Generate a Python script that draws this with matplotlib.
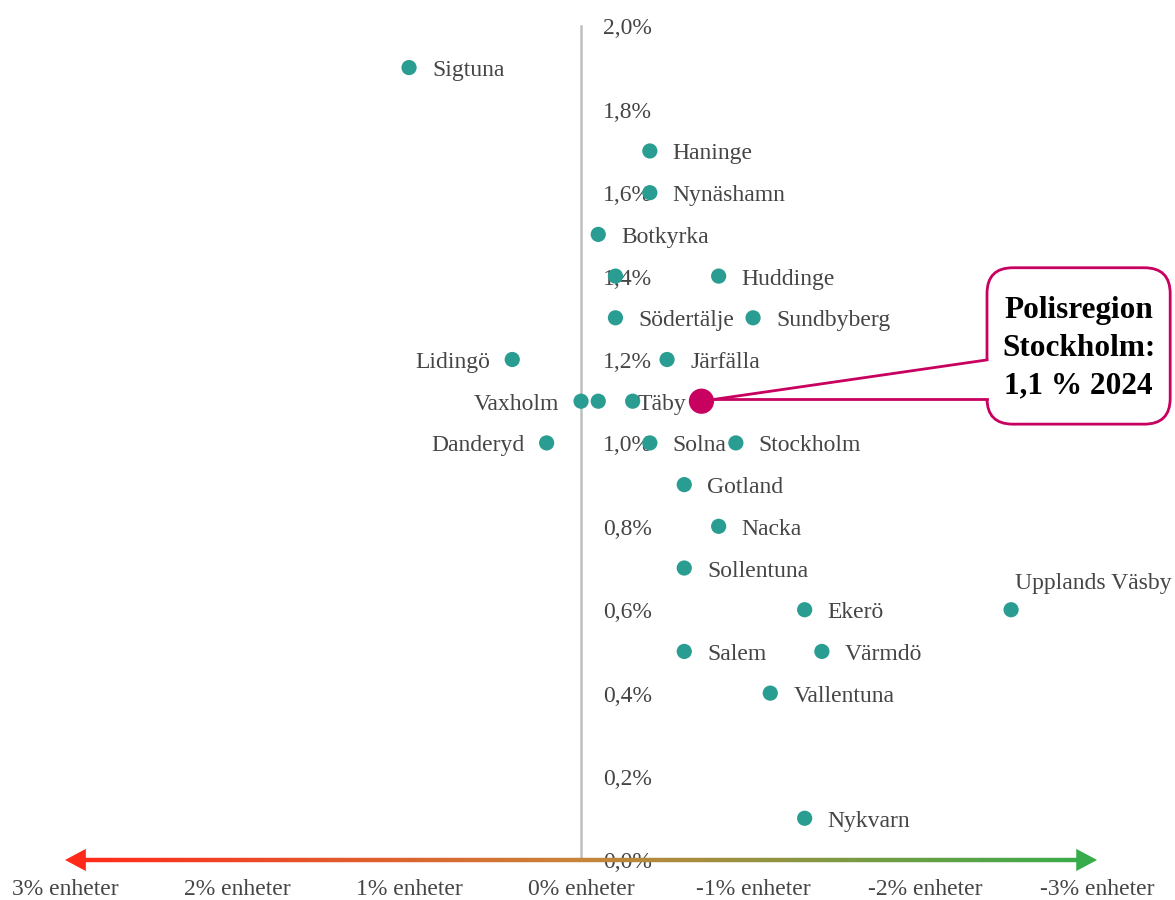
#!/usr/bin/env python

"""Scatter of municipalities in Polisregion Stockholm: level 2024 vs change."""

import matplotlib
matplotlib.use('Agg')
import matplotlib.pyplot as plt
import matplotlib.patches as mpatches
from matplotlib.collections import LineCollection
from matplotlib.colors import LinearSegmentedColormap
import numpy as np

plt.rcParams['font.family'] = ['Liberation Serif', 'DejaVu Serif']

# data (percent / percentage units)
names = ['Sigtuna', 'Haninge', 'Nynäshamn', 'Botkyrka', '', 'Huddinge',
         'Södertälje', 'Sundbyberg', 'Lidingö', 'Järfälla', 'Vaxholm', '',
         'Täby', 'Danderyd', 'Solna', 'Stockholm', 'Gotland', 'Nacka',
         'Sollentuna', 'Ekerö', 'Upplands Väsby', 'Salem', 'Värmdö',
         'Vallentuna', 'Nykvarn']
change = [1.0, -0.4, -0.4, -0.1, -0.2, -0.8,
          -0.2, -1.0, 0.4, -0.5, 0.0, -0.1,
          -0.3, 0.2, -0.4, -0.9, -0.6, -0.8,
          -0.6, -1.3, -2.5, -0.6, -1.4,
          -1.1, -1.3]
level = [1.9, 1.7, 1.6, 1.5, 1.4, 1.4,
         1.3, 1.3, 1.2, 1.2, 1.1, 1.1,
         1.1, 1.0, 1.0, 1.0, 0.9, 0.8,
         0.7, 0.6, 0.6, 0.5, 0.5,
         0.4, 0.1]
left_labels = ['Lidingö', 'Vaxholm', 'Danderyd']
above_labels = ['Upplands Väsby']
tight_labels = ['Täby']

region_name = 'Polisregion\nStockholm:\n1,1 % 2024'
region_change = -0.7
region_level = 1.1

y_ticks = [0.0, 0.2, 0.4, 0.6, 0.8, 1.0, 1.2, 1.4, 1.6, 1.8, 2.0]
x_ticks = [3, 2, 1, 0, -1, -2, -3]
x_tick_labels = ['3% enheter', '2% enheter', '1% enheter', '0% enheter',
                 '-1% enheter', '-2% enheter', '-3% enheter']

TEAL = '#2A9D92'
MAGENTA = '#C8005F'
TEXT = '#454545'
DY = -3     # text sits a little low in the original

fig = plt.figure(figsize=(11.75, 9), dpi=100)
ax = fig.add_axes([0, 0, 1, 1])
ax.set_xlim(3.378, -3.453)
ax.set_ylim(-0.096, 2.062)
ax.axis('off')

# vertical axis
ax.plot([0, 0], [0, 2.0], color='#BFBFBF', lw=1.8, zorder=1)
for v in y_ticks:
    ax.annotate('{:.1f}%'.format(v).replace('.', ','), xy=(0, v),
                xytext=(22, DY), textcoords='offset pixels',
                ha='left', va='center', fontsize=17, color=TEXT, zorder=2)

# gradient horizontal arrow
cmap = LinearSegmentedColormap.from_list(
    'redgreen', ['#FF2A1A', '#C8843A', '#38AC4A'])
xs = np.linspace(2.93, -2.93, 300)
segs = [[(xs[i], 0), (xs[i + 1], 0)] for i in range(len(xs) - 1)]
lc = LineCollection(segs, colors=cmap(np.linspace(0, 1, len(segs))),
                    linewidths=3.2, capstyle='butt', zorder=2)
ax.add_collection(lc)
for tip, start, col in [(3.0, 2.9, '#FF2A1A'), (-3.0, -2.9, '#38AC4A')]:
    ax.annotate('', xy=(tip, 0), xytext=(start, 0),
                arrowprops=dict(arrowstyle='-|>,head_length=0.75,head_width=0.4',
                                color=col, lw=0, shrinkA=0, shrinkB=0,
                                mutation_scale=20), zorder=3)
for v, lab in zip(x_ticks, x_tick_labels):
    ax.annotate(lab, xy=(v, 0), xytext=(0, -30), textcoords='offset pixels',
                ha='center', va='center', fontsize=17, color=TEXT)

# municipalities
ax.scatter(change, level, s=120, color=TEAL, edgecolors='none', zorder=4)
for n, x, y in zip(names, change, level):
    if not n:
        continue
    if n in left_labels:
        off, ha = (-22, DY), 'right'
    elif n in above_labels:
        off, ha = (4, 29 + DY), 'left'
    elif n in tight_labels:
        off, ha = (5, DY), 'left'
    else:
        off, ha = (23, DY), 'left'
    ax.annotate(n, xy=(x, y), xytext=off, textcoords='offset pixels',
                ha=ha, va='center', fontsize=17, color=TEXT, zorder=5)

# callout for the whole region
box_l, box_r, box_b, box_t = -2.36, -3.425, 1.045, 1.42
box = mpatches.FancyBboxPatch((box_r, box_b), box_l - box_r, box_t - box_b,
                              boxstyle='round,pad=0,rounding_size=0.15',
                              mutation_aspect=172 / 417,
                              facecolor='white', edgecolor=MAGENTA,
                              lw=2, zorder=5)
ax.add_patch(box)
wedge = mpatches.Polygon([(region_change, region_level), (box_l - 0.02, 1.199),
                          (box_l - 0.02, 1.105)], closed=True,
                         facecolor='white', edgecolor='none', zorder=6)
ax.add_patch(wedge)
ax.plot([region_change, box_l], [region_level, 1.199], color=MAGENTA,
        lw=2, zorder=6)
ax.plot([region_change, box_l], [1.105, 1.105], color=MAGENTA,
        lw=2, zorder=6)
ax.text((box_l + box_r) / 2, (box_t + box_b) / 2 - 0.005, region_name,
        ha='center', va='center', fontsize=22.5, fontweight='bold',
        color='black', linespacing=1.4, zorder=7)
ax.scatter([region_change], [region_level], s=330, color=MAGENTA,
           edgecolors='none', zorder=8)

fig.savefig('out.png', dpi=100)
